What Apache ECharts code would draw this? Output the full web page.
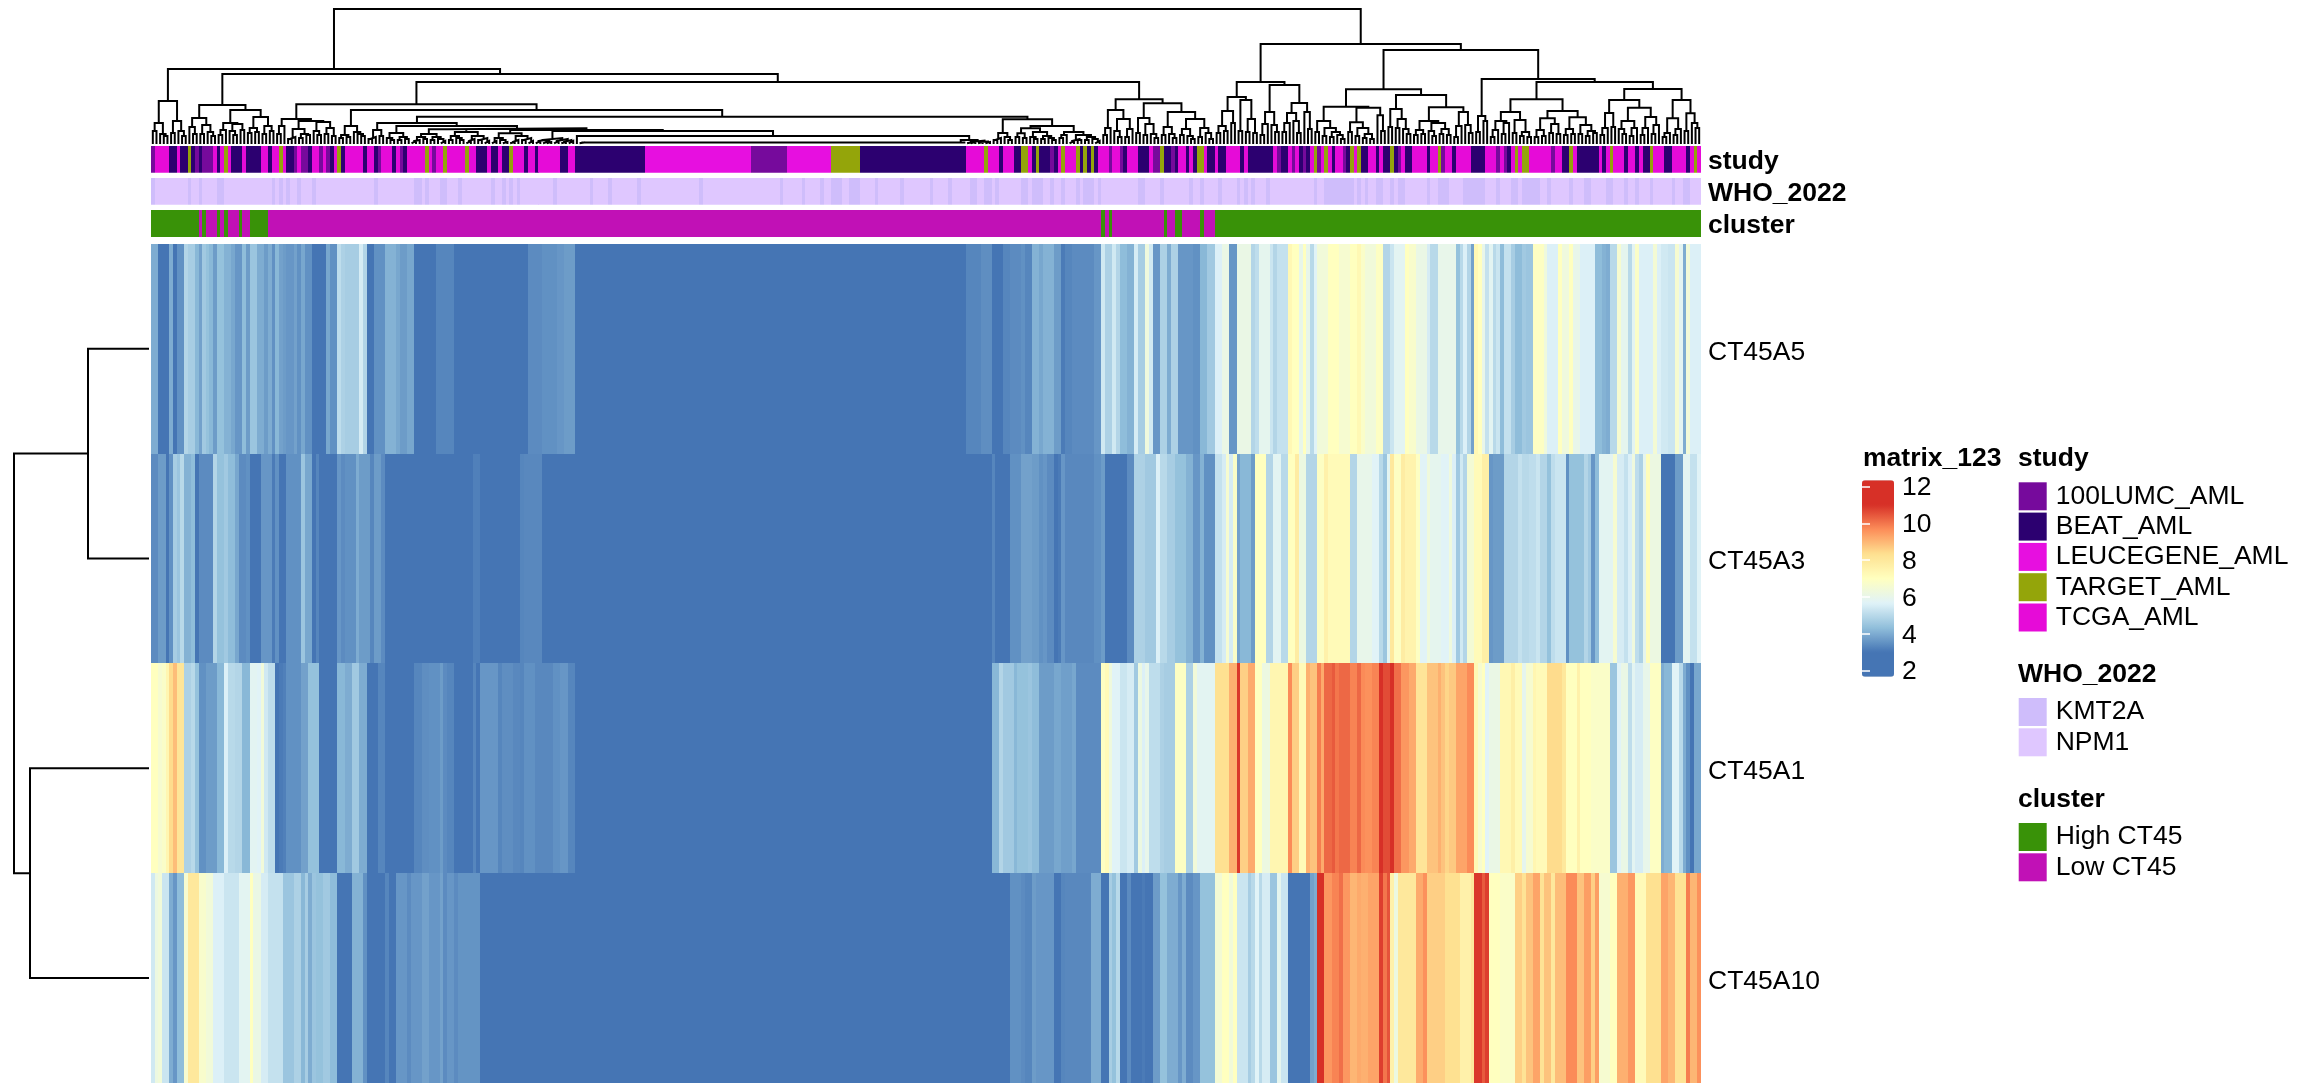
<!DOCTYPE html>
<html><head><meta charset="utf-8">
<style>html,body{margin:0;padding:0;background:#fff}#c{width:2297px;height:1083px}</style>
<script src="https://cdn.jsdelivr.net/npm/echarts@6/dist/echarts.min.js"></script>
</head><body><div id="c"></div>
<script>
const genes = ['CT45A5','CT45A3','CT45A1','CT45A10'];
const ct45a5 = [
4,4,3,3,3,4,3,3.5,3.5,4.9, 4.7,4.7,4.2,3.8,4.6,4.4,4.2,3.7,4.4,4.4,
4.1,4.1,3.9,3.6,3.6,4.3,3.7,4.5,4.5,4, 4,3.7,4,3.5,4.2,3.8,3.7,3.6,3.6,3.8,
3.5,3.9,3.5,3.5,3,3,3,3,3.9,3.5, 3.5,5.1,4.8,4.7,4.7,4.7,4.7,5.5,4.9,3,
3,3.5,3.5,3.5,4.1,4.1,4.1,3.9,3.7,3.7, 3.9,3.9,3,3,3,3,3,3,3.3,3.3,
3.3,3.3,3.3,3,3,3,3,3,3,3, 3,3,3,3,3,3,3,3,3,3,
3,3,3,3.4,3.4,3.4,3.4,3.5,3.5,3.5, 3.5,3.6,3.6,3.7,3.7,3.7,3,3,3,3,
3,3,3,3,3,3,3,3,3,3, 3,3,3,3,3,3,3,3,3,3, 3,3,3,3,3,3,3,3,3,3, 3,3,3,3,3,3,3,3,3,3,
3,3,3,3,3,3,3,3,3,3, 3,3,3,3,3,3,3,3,3,3, 3,3,3,3,3,3,3,3,3,3, 3,3,3,3,3,3,3,3,3,3,
3,3,3,3,3,3,3,3,3,3, 3,3,3,3,3,3,3,3,3,3,
3,3,3,3.3,3.3,3.3,3.3,3.45,3.45,3.45, 3,3,3,3.3,3.3,3.4,3.4,3.4,3.5,3.3,
3.3,4.1,4.1,3.9,4.1,4.1,4.1,3.7,3.7,3.1, 3.3,3.3,3.4,3.4,3.4,3.4,3.4,3.4,3.6,3.6,
5.4,4.8,4.8,5.4,4.9,4.3,4.3,4.1,4.1,5.5, 4.7,4.7,6.3,5.4,3.6,3.6,4.8,4.8,4,4.8,
4.8,3.6,3.6,3.6,3.6,3.5,3.5,4.2,4.2,4.6, 4.6,5.6,5.6,6.1,6.1,3.6,3.6,6.1,6.1,6.1,
6.1,4.9,5.1,5.9,5.9,5.9,5.3,4.9,5.2,5.2, 5.2,7.3,7,7,6,7,6,5,5.7,6.4,
6.4,6.4,7,7,7,6.6,6.6,6.6,7,7, 7.3,6.8,6.4,6.4,6.4,6.9,6.9,4.9,4.9,5.3,
5.8,5.8,5.8,7,6.7,6.7,6.1,6.1,6.1,5.5, 5,5,6,6,6,6,6,4.4,5,5.6,
4.9,3.8,7.3,7,6,5.2,5.8,5,5.3,4.3, 5.2,5.2,4.7,4.3,4.3,4.6,4.5,4.5,6.9,6.9,
6.9,6.3,5.6,5.6,5.6,7,6.3,6.3,7,6, 6,5.6,5.6,5.6,5.6,4.3,4.3,4.1,4,5,
5,6.6,5.9,5.9,5,5.8,6.8,5.6,5.6,5.6, 5.6,6.5,5.6,5.4,5.4,5.3,5.3,6.6,5.8,4,
6.4,5.6,5.6,5.6];
const ct45a3 = [
3.4,3.4,3.7,3.7,3,3.5,4.7,4.5,5,4.1, 4.1,4.3,3,3.4,3.4,3.4,3.4,4.9,4.4,4.4,
4.6,4.3,4.3,3.9,3.4,3.4,3.5,3,3,3, 3.6,3.6,3.6,3.1,3.5,3,3,3.5,3.5,3.5,
3.5,4.5,3.9,3.9,3,3.3,3,3,3,3, 3,3.6,3.4,3.5,3.5,3.5,4,3.7,3.7,3.7,
3.3,3.7,3.7,3.4,3,3,3,3,3,3, 3,3,3,3,3,3,3,3,3,3,
3,3,3,3,3,3,3,3,3.2,3.2, 3,3,3,3,3,3,3,3,3,3,
3,3.3,3.35,3.35,3.35,3.35,3.35,3,3,3, 3,3,3,3,3,3,3,3,3,3,
3,3,3,3,3,3,3,3,3,3, 3,3,3,3,3,3,3,3,3,3, 3,3,3,3,3,3,3,3,3,3, 3,3,3,3,3,3,3,3,3,3,
3,3,3,3,3,3,3,3,3,3, 3,3,3,3,3,3,3,3,3,3, 3,3,3,3,3,3,3,3,3,3, 3,3,3,3,3,3,3,3,3,3,
3,3,3,3,3,3,3,3,3,3, 3,3,3,3,3,3,3,3,3,3,
3,3,3,3,3,3,3,3,3,3, 3.3,3,3,3,3,3.5,3.5,3.5,3.8,3.8,
3.8,3.7,3.7,3.5,3.6,3.4,3.4,3,3.1,3.6, 3.35,3.35,3.35,3.35,3.35,3.35,3.35,3.35,3.5,3.5,
3.7,3,3,3,3,3,3,3.4,3.4,4.8, 4.8,4.8,4.6,4.6,4.6,5.6,5,5,4.7,4.7,
4.4,4.4,4.4,4.1,4.1,3.6,3.6,4.1,3.5,3.5, 3.5,5.2,5.2,5.5,6.6,5.5,6.8,3.8,4.2,4.2,
4.2,3.7,7,7,7,4.9,4.9,5.8,5.8,5, 5,7,7,7.8,6.2,6.2,4.9,4.9,4.9,6.9,
6.9,7.6,7.2,7.2,7.2,7.2,7.2,7.2,4.9,4.9, 6,6,6,6,5.7,5.7,5,4.5,5.8,8,
6.9,6.9,7.8,7.5,7.5,7.5,6.9,5.7,5.7,6.3, 5.9,5.9,5.9,5.7,5.7,6.3,5.6,4.6,5.4,4.9,
6.5,6.5,7.2,7.2,7.7,7.7,3.6,3.7,3.7,3.7, 4.9,4.9,4.9,4.9,5.2,5,5,5.1,5.1,5.3,
4.9,4.9,4.4,5.1,5.3,5.3,5.3,3.5,4.4,4.4, 4.4,4.4,4.9,4.6,3.6,4.3,5.8,5.8,5.8,5.8,
6.6,5.5,5.5,5.2,5.6,6.3,5.1,4.8,5.9,7.1, 6.2,6.2,6.2,3,3,3,3,3.7,3.7,5.8,
5.8,5.2,5.2,5.7];
const ct45a1 = [
7,7,6.6,6.8,7.4,8.4,8.9,8.1,8.1,4.8, 4.8,5,4.4,3.5,3.5,3.7,3.7,3.7,4.2,4.2,
5.6,5,5,4.9,4.9,4.2,4.2,5.8,5.8,5.7, 6.4,5.4,5.1,5.1,3,3.1,3.2,3.5,3.5,3.5,
3.5,3.8,3.8,4.4,4.4,4.4,3,3,3,3, 3,4.2,4.2,4,4,4.6,4.6,4,4,3,
3,3,3.3,3.3,3,3,3,3,3,3, 3,3,3.3,3.3,3.45,3.45,3.5,3.5,3.5,3.7,
3.4,3.3,3.3,3,3,3,3,3,3.3,3, 3.6,3.6,3.6,3.6,3.6,3.3,3.45,3.45,3.45,3.35,
3.35,3.3,3.5,3.5,3.5,3.35,3.35,3.35,3.35,3.35, 3.5,3.5,3.6,3.6,3.3,3.3,3,3,3,3,
3,3,3,3,3,3,3,3,3,3, 3,3,3,3,3,3,3,3,3,3, 3,3,3,3,3,3,3,3,3,3, 3,3,3,3,3,3,3,3,3,3,
3,3,3,3,3,3,3,3,3,3, 3,3,3,3,3,3,3,3,3,3, 3,3,3,3,3,3,3,3,3,3, 3,3,3,3,3,3,3,3,3,3,
3,3,3,3,3,3,3,3,3,3, 3,3,3,3,3,3,3,3,3,3,
3,3,3,3,3,3,3,3,3,3, 4.2,4.2,4.9,4.6,4.6,4.6,4.2,4.4,4.4,4.4,
4.5,4.3,4.3,3.7,3.7,3.7,3.7,3.9,3.9,3.75, 3.75,3.75,3.9,3.4,3.4,3.4,3.4,3.4,3.4,3.4,
6.9,7.2,6.3,5.7,5.7,5.3,5.3,5.5,5.5,4.6, 6.2,5.6,6,5.1,5.1,5.1,4.8,4.7,4.7,4.7,
6.9,6.9,6.9,4.8,4.8,6.4,5.8,5.8,5.8,5.8, 5.8,8.3,8.3,8.3,8.3,9.1,9.1,10.9,8.6,8.6,
9.2,9.2,7,7,6.2,6.2,7.4,7.4,7.4,7.4, 7.4,9.7,8.6,8.6,7.2,7.2,9.1,8.8,8.8,9.9,
9.2,10.2,10.2,10.4,10,10.2,10.2,10.2,9.8,9.8, 10.2,9.7,9.6,9.6,9.8,9.8,11,10.6,10.6,11,
10.1,10.1,9.5,9.5,9.2,9.2,8.1,8.1,8.1,8.8, 8.8,8.8,9.1,8.8,8.5,8.7,8.7,9.3,9.3,9.3,
9.7,9.7,7.3,6.6,7,5.7,6.1,6.1,6.1,7.3, 7.3,7.3,7.7,7.2,7.2,5.9,6.6,6.6,7.4,7.2,
7.2,7.2,8.4,8.4,8.4,8.4,8,7,7,7, 7.6,7,7,7,6.8,6.8,6.8,6.8,6.8,4.5,
4.5,5.7,6.1,6.1,5.1,5.8,5.5,5.5,6,6, 6.9,6.9,6.9,4,4.2,4.2,5.7,5.7,5,4,
3.5,3,3.9,3.9];
const ct45a10 = [
5.4,6.2,6.4,5.3,5.3,4,3.6,4.3,4.3,6.6, 8,8,8,6.7,6.7,6.4,6.4,5.6,5.6,5.6,
5.3,5.3,5.3,5.3,5.8,5.8,5.8,7,6.1,6.1, 5.5,5.5,5.2,5.2,5.2,5.2,4.5,4.5,4.5,4.8,
4.8,4.2,4.7,4,4.5,4.4,4.4,4.6,4.6,4.3, 4.3,3,3,3,3,4.1,4.1,4.1,3.5,3,
3,3,3,3,3.3,3,3,3.6,3.6,3.6, 3.4,3.6,3.6,3.6,3.8,3.8,3.6,3.6,3.6,3.8,
3.4,3.6,3.6,3.4,3.55,3.55,3.55,3.55,3.55,3.55, 3,3,3,3,3,3,3,3,3,3,
3,3,3,3,3,3,3,3,3,3, 3,3,3,3,3,3,3,3,3,3,
3,3,3,3,3,3,3,3,3,3, 3,3,3,3,3,3,3,3,3,3, 3,3,3,3,3,3,3,3,3,3, 3,3,3,3,3,3,3,3,3,3,
3,3,3,3,3,3,3,3,3,3, 3,3,3,3,3,3,3,3,3,3, 3,3,3,3,3,3,3,3,3,3, 3,3,3,3,3,3,3,3,3,3,
3,3,3,3,3,3,3,3,3,3, 3,3,3,3,3,3,3,3,3,3,
3,3,3,3,3,3,3,3,3,3, 3,3,3,3,3,3.5,3.5,3.5,3.4,3.3,
3.3,3.7,3.6,3.6,3.6,3.6,3.6,3,3,3.3, 3.35,3.35,3.35,3.35,3.35,3.35,3.35,4,4,4,
3,3,4.7,4.4,5,3,3,3.4,3,3, 3,3.1,3,3,3.7,3.7,4.4,4.4,4,4,
4,3.6,4,3.4,3.4,3.6,3.6,4.4,4.4,4.4, 4.4,6.5,6.5,7,7,6.4,7,5.3,5.3,5.3,
4.7,5,5.7,5,5.5,5.5,4.5,4.5,5.9,5.3, 5.3,3,3,3,3,3,3,3.8,4,11,
11,9.5,9.5,9.8,9.8,10.1,9.5,9.5,9,9, 9.2,9.1,9.1,9.3,9.3,9.3,10.8,10,10.5,7.6,
6.2,8,8,8,8,8,9.2,9.2,9.6,8.6, 8.6,8.6,8.6,8.6,8.3,8.3,8.3,8.3,7.6,7.6,
7.6,8,10.9,10.9,10.4,10.8,7,7,7,6.8, 6.8,6.8,6.8,8.6,8.6,8.2,8.8,8.8,9.3,9.3,
8.2,8.8,8.8,8,8.9,8.9,8.9,9.7,9.7,9.7, 8.8,8.8,9.4,9.4,8.6,9.4,6.6,6.6,6.6,7,
7,9.1,9.1,9.1,9.5,9.5,7.2,7.2,7.2,8.3, 8.3,8.3,8.3,9.3,9.3,9,9,8.2,8.2,8.2,
9.9,9,9,9.6];

// 0 100LUMC, 1 BEAT, 2 LEUCEGENE, 3 TARGET, 4 TCGA
const studyCodes = [
0,4,4,4,4,1,1,4,1,1, 3,1,0,1,0,0,0,4,1,4, 3,4,1,1,1,4,1,1,1,1, 4,4,1,4,4,3,4,1,1,0,
4,0,0,1,4,4,0,4,0,1, 4,3,1,4,4,4,4,4,1,4, 4,1,0,4,4,4,1,4,0,1, 4,4,4,4,4,3,4,0,4,4,
3,4,4,4,4,4,3,4,4,1, 1,1,4,1,1,4,1,1,3,4, 4,4,1,4,4,1,4,4,4,4, 4,4,1,1,4,4,1,1,1,1,
1,1,1,1,1,1,1,1,1,1, 1,1,1,1,1,2,2,2,2,2, 2,2,2,2,2,2,2,2,2,2, 2,2,2,2,2,2,2,2,2,2,
2,2,2,2,0,0,0,0,0,0, 0,0,0,0,2,2,2,2,2,2, 2,2,2,2,2,2,3,3,3,3, 3,3,3,3,1,1,1,1,1,1,
1,1,1,1,1,1,1,1,1,1, 1,1,1,1,1,1,1,1,1,1, 1,1,1,4,4,4,4,4,3,4, 4,4,1,4,4,4,1,1,3,3,
4,1,3,1,1,1,0,1,4,3, 4,4,4,3,1,3,1,3,1,4, 4,4,0,4,4,0,1,4,4,4, 1,1,1,4,0,0,3,1,1,0,
1,4,4,1,4,1,3,3,4,1, 1,4,1,1,4,4,4,4,1,4, 1,1,1,1,1,1,1,4,0,1, 1,4,0,4,1,0,1,4,3,0,
4,3,4,1,4,4,0,1,3,4, 3,1,1,4,4,1,4,1,1,3, 1,0,4,1,1,4,4,4,4,1, 4,4,3,0,4,4,1,4,4,4,
4,1,1,1,1,4,4,4,0,4, 0,1,4,3,4,3,3,4,4,4, 4,4,4,0,4,4,1,1,3,4, 1,1,1,1,1,1,4,1,4,3,
4,4,4,1,4,4,1,4,1,1, 3,4,4,4,1,1,4,4,4,4, 1,4,3,4];
// 0 KMT2A, 1 NPM1
const whoCodes = [
0,1,1,1,1,1,1,1,1,1, 0,1,1,0,1,1,1,1,0,0, 1,1,1,1,1,1,1,1,1,1, 1,1,1,0,1,0,1,0,1,1,
0,1,1,1,0,1,1,1,1,1, 1,1,1,1,1,1,1,1,1,1, 1,0,1,1,1,1,1,1,1,1, 1,1,0,0,1,0,1,1,1,0,
0,1,1,1,0,1,1,1,1,1, 1,1,1,0,1,1,0,1,0,1, 0,1,1,1,1,1,1,1,1,1, 0,1,1,1,1,1,1,1,1,1,
0,1,1,1,1,0,1,1,1,1, 1,1,1,0,1,1,1,1,1,1, 1,1,1,1,1,1,1,1,1,1, 0,1,1,1,1,1,1,1,1,1,
1,1,1,1,1,1,1,1,1,1, 1,1,0,1,1,1,1,1,0,1, 1,1,1,0,1,1,0,0,0,1, 1,0,0,0,1,1,1,1,0,1,
1,1,1,1,1,0,1,1,1,1, 1,1,1,0,1,1,1,1,0,1, 1,1,1,1,0,0,1,1,0,0, 1,0,1,1,1,1,1,1,0,0,
1,0,0,0,1,1,0,1,1,0, 1,1,1,0,1,0,0,0,1,0, 1,1,1,1,1,1,1,1,1,1, 0,0,1,1,1,1,0,1,1,1,
1,1,1,1,0,1,1,0,1,1, 1,1,0,1,1,1,1,0,1,0, 1,0,1,1,1,0,1,1,1,1, 1,1,1,1,1,1,1,1,0,1,
1,0,0,0,0,0,0,0,0,1, 0,1,0,1,1,0,0,1,1,0, 1,0,0,1,1,1,1,1,1,0, 1,1,0,0,0,1,1,1,1,0,
0,0,0,0,0,1,1,1,0,1, 1,1,0,0,1,0,0,0,0,0, 1,1,0,1,1,1,1,1,0,1, 1,1,0,0,1,1,1,1,0,0,
1,1,1,0,1,1,0,1,1,1, 0,1,1,1,1,1,0,1,1,0, 0,1,1,1];
// 0 High CT45, 1 Low CT45
const clusterCodes = [
0,0,0,0,0,0,0,0,0,0, 0,0,0,1,0,1,1,1,0,1, 0,1,1,1,0,1,1,0,0,0, 0,0,1,1,1,1,1,1,1,1,
1,1,1,1,1,1,1,1,1,1, 1,1,1,1,1,1,1,1,1,1, 1,1,1,1,1,1,1,1,1,1, 1,1,1,1,1,1,1,1,1,1,
1,1,1,1,1,1,1,1,1,1, 1,1,1,1,1,1,1,1,1,1, 1,1,1,1,1,1,1,1,1,1, 1,1,1,1,1,1,1,1,1,1,
1,1,1,1,1,1,1,1,1,1, 1,1,1,1,1,1,1,1,1,1, 1,1,1,1,1,1,1,1,1,1, 1,1,1,1,1,1,1,1,1,1,
1,1,1,1,1,1,1,1,1,1, 1,1,1,1,1,1,1,1,1,1, 1,1,1,1,1,1,1,1,1,1, 1,1,1,1,1,1,1,1,1,1,
1,1,1,1,1,1,1,1,1,1, 1,1,1,1,1,1,1,1,1,1, 1,1,1,1,1,1,1,1,1,1, 1,1,1,1,1,1,1,1,1,1,
1,1,1,1,1,1,1,1,1,1, 1,1,1,1,1,1,1,1,1,1, 0,1,0,1,1,1,1,1,1,1, 1,1,1,1,1,1,1,0,1,1,
0,0,1,1,1,1,1,0,1,1, 1,0,0,0,0,0,0,0,0,0, 0,0,0,0,0,0,0,0,0,0, 0,0,0,0,0,0,0,0,0,0,
0,0,0,0,0,0,0,0,0,0, 0,0,0,0,0,0,0,0,0,0, 0,0,0,0,0,0,0,0,0,0, 0,0,0,0,0,0,0,0,0,0,
0,0,0,0,0,0,0,0,0,0, 0,0,0,0,0,0,0,0,0,0, 0,0,0,0,0,0,0,0,0,0, 0,0,0,0,0,0,0,0,0,0,
0,0,0,0,0,0,0,0,0,0, 0,0,0,0,0,0,0,0,0,0, 0,0,0,0];

const studyNames = ['100LUMC_AML','BEAT_AML','LEUCEGENE_AML','TARGET_AML','TCGA_AML'];
const studyColors = ['#760A9C','#2C0070','#E70FE0','#94A50A','#E60BD8'];
const whoNames = ['KMT2A','NPM1'];
const whoColors = ['#CFBDFB','#DFC7FF'];
const clusterNames = ['High CT45','Low CT45'];
const clusterColors = ['#399208','#C111B6'];
const legendTicks = [2,4,6,8,10,12];

// dendrogram nodes: [height, left, right]; 0 is a leaf
const rowTree = [134,[60,0,0],[118,0,0]];
const flatHeights = [
.5,.5,.5,.5,.5,.5,.5,.5,.5,.5, .5,.5,.5,.5,.5,.5,.5,.5,.5,.5, .5,.5,.5,.5,.5,.5,.5,.5,.5,.5,
.5,.5,.5,.5,.5,.5,.5,.5,.5,.5, .5,.5,.5,.5,.5,.5,.5,.5,.5,.5, .5,.5,.5,.5,.5,.5,.5,.5,.5,.5,
.5,.5,.5,.5,.5,.5,.5,.5,.5,.5, .5,.5,.5,.5,.5,.5,.5,.5,.5,.5, .5,.5,.5,.5,.5,.5,.5,.5,.5,.5,
.5,.5,.5,.5,.5,.5,.5,.5,.5,.5, .5,.5,.5,.5,.6];
const flatBlock = flatHeights.reduce((t, h) => [h, t, 0], 0);
const t1 = [42,[20,[12,0,0],[9,0,[7,0,0]]],[22,[10,0,0],[12,0,[7,0,0]]]];
const t2 = [38,[25,[16,0,[9,0,0]],[18,[9,0,0],[11,0,[7,0,0]]]],
  [33,[20,[13,[8,0,0],0],[19,[12,0,[8,0,0]],[13,0,0]]],[26,[15,[10,0,0],[11,0,0]],[17,[9,0,0],[12,0,0]]]]];
const t3 = [24,[17,[9,0,0],0],[22,[14,[6,[4,0,0],0],[9,[5,0,0],[8,0,0]]],[21,[12,0,[8,0,0]],[15,[9,0,0],[7,0,0]]]]];
const t4 = [17,[8,[5,0,0],[6,0,0]],[11,0,[9,0,[7,0,0]]]];
const t5 = [13,[6,[4,0,0],0],[7,0,0]];
const t6 = [10,[5,0,[3,0,0]],[6,[3,0,0],[4,0,0]]];
const t7 = [13.7,[9,[6,[3,[2,0,0],0],[4,0,0]],[6,[3,0,0],[4,0,[2,0,0]]]],
  [11,[7,[3,0,0],[5,0,[3,0,0]]],[7,[4,[2,0,0],0],[5,[3,0,0],[2,0,0]]]]];
const t8 = [9.7,[5,[2,0,0],[3,0,[1,0,0]]],[7,[3,[1,0,0],0],[5,[3,0,0],[2,0,0]]]];
const t9 = [5,[3,[2,0,0],[2,0,[1,0,0]]],[4,[2,0,0],[3,[1,0,0],[2,0,0]]]];
const t10 = [2.5,[1,0,[1,0,0]],[1.5,[1,0,0],[1,0,0]]];
const t11 = [10,[5,[3,0,0],0],[6,0,[3,0,0]]];
const t12 = [17,[14.7,[9.7,[6,0,0],[5,0,0]],[11,[6,0,[4,0,0]],[7,[4,0,0],[5,0,[3,0,0]]]]],
  [11,[8,[5,0,0],0],[8,[4,[2,0,0],[3,0,0]],[6,[3,0,0],[4,0,[2,0,0]]]]]];
const t13 = [43.7,[33,[15,[8,0,0],0],[24,[12,0,[6,0,0]],[14,[6,0,0],0]]],
  [39.7,[25,[10,0,0],[19,[8,0,0],[9,0,[5,0,0]]]],
   [31,[16,[8,0,0],[9,0,[5,0,0]]],[24,[14,[8,0,0],[7,0,[4,0,0]]],[15,[6,0,0],[10,0,[4,0,0]]]]]]];
const t14 = [61,[46,[32,[17,[10,0,0],[12,0,0]],[20,0,0]],[43,[12,0,0],[24,[11,0,0],[10,0,0]]]],
  [58,[31,[19,[8,0,0],0],[18,0,[11,0,0]]],[40,[30,[20,[11,0,0],0],[22,0,[10,0,0]]],[31,0,[14,0,0]]]]];
const t15 = [53.7,[36.3,[22,[11,0,0],[15,[7,0,0],[11,[6,0,0],[8,0,[4,0,0]]]]],
    [35.3,[20.7,[11,0,0],[15,[7,0,0],[9,[5,0,0],[4,0,0]]]],[27.7,0,[12,0,0]]]],
  [48,[34,[16,0,0],[24,[15,0,0],[14,0,[9,0,0]]]],
    [35.7,[22,[13,[8,0,0],[9,0,0]],[20,[12,0,[7,0,0]],[14,[9,0,0],[8,0,0]]]],[31,[17,[6,0,0],0],[18,0,[10,0,0]]]]]];
const t16 = [27,[11,0,0],[22,0,0]];
const t17 = [43.7,[31,[22,[13,[6,0,0],0],[20,[9,0,0],0]],[23,[10,0,0],[11,[7,0,0],[6,0,0]]]],
  [32,[24.7,[13,[6,0,0],[7,0,0]],[19,[10,0,0],[9,0,0]]],[25.7,[14,[8,0,0],[9,0,0]],[18,[9,0,0],[12,[7,0,0],[10,0,0]]]]]];
const t18 = [54,[43,[30,[15,[8,0,0],0],[16,0,0]],[35.3,[22,[14,0,[9,0,0]],[15,[7,0,0],0]],[26,[15,[8,0,0],0],[18,[9,0,0],0]]]],
  [43,[24.7,[10,[6,0,0],0],[14,[8,0,0],0]],[29.7,[12,0,0],[20,0,[15,0,0]]]]];
const lowerLeft = [20,t5,[17,t6,[14.7,t7,[13,t8,[12,t9,[7,0,[3,flatBlock,t10]]]]]]];
const middleLeft = [26.3,lowerLeft,[23.7,t11,t12]];
const leftBranch = [74,t1,[69,t2,[61,[38.7,t3,[33,t4,middleLeft]],t13]]];
const rightBranch = [99,t14,[93,t15,[64,t16,[61,t17,t18]]]];
const colTree = [134,leftBranch,rightBranch];

const nCols = ct45a5.length;
const colNames = ct45a5.map((_, i) => String(i));
function segments(tree, toPoint) {
  const out = []; let leaf = 0;
  (function walk(n) {
    if (!Array.isArray(n)) { leaf += 1; return { p: leaf - 0.5, h: 0 }; }
    const a = walk(n[1]), b = walk(n[2]);
    [[a.p,a.h],[a.p,n[0]],[b.p,n[0]],[b.p,b.h]].forEach(q => out.push(toPoint(q[0], q[1])));
    out.push([NaN, NaN]);
    return { p: (a.p + b.p) / 2, h: n[0] };
  })(tree);
  return out;
}
const FONT = 'Liberation Sans';
const FS = 26.5;
const heatCells = [];
[ct45a5, ct45a3, ct45a1, ct45a10].forEach((row, r) => row.forEach((v, c) => heatCells.push([c, r, v])));
const track = codes => codes.map((v, c) => [c, 0, v]);

// one cell through the axes' own scale, snapped to whole pixels so neighbours share an edge
function cell(params, api) {
  const p = api.coord([api.value(0), api.value(1)]);
  const s = api.size([1, 1]);
  const x0 = Math.round(p[0] - s[0] / 2), x1 = Math.round(p[0] + s[0] / 2);
  const y0 = Math.round(p[1] - s[1] / 2), y1 = Math.round(p[1] + s[1] / 2);
  return { type: 'rect', shape: { x: x0, y: y0, width: x1 - x0, height: y1 - y0 }, style: { fill: api.visual('color') } };
}
const cells = (axis, data) => ({ type: 'custom', xAxisIndex: axis, yAxisIndex: axis, data, renderItem: cell, encode: { x: 0, y: 1 }, silent: true, progressive: 0, clip: true });

// axis label nudged down inside its line box, as the reference text sits slightly lower
const nudged = (margin, drop, weight, extra) => Object.assign({
  margin, color: '#000', fontFamily: FONT, fontSize: FS, fontWeight: weight,
  formatter: '{a|{value}}',
  rich: { a: { padding: [drop, 0, 0, 0], color: '#000', fontFamily: FONT, fontSize: FS, fontWeight: weight } }
}, extra || {});
const trackAxis = (gi, name) => ({
  type: 'category', gridIndex: gi, data: [name], position: 'right', axisLine: { show: false }, axisTick: { show: false },
  axisLabel: nudged(7, 5, 'bold')
});
const hideX = (gi, data) => ({ type: 'category', gridIndex: gi, data, show: false });
const piece = (series, names, colors, top) => ({
  type: 'piecewise', seriesIndex: series, dimension: 2, show: true, left: 2018.7, top, padding: 0, orient: 'vertical',
  itemWidth: 28, itemHeight: 28, itemGap: 2.3, itemSymbol: 'rect', textGap: 9, selectedMode: false, hoverLink: false, align: 'left', inverse: true,
  textStyle: { color: '#000', fontFamily: FONT, fontSize: FS },
  pieces: names.map((label, i) => ({ value: i, label, color: colors[i] }))
});
const head = (text, left, top) => ({ text, left, top, padding: 0, textStyle: { fontFamily: FONT, fontSize: FS, fontWeight: 'bold', color: '#000', lineHeight: FS } });

const chart = echarts.init(document.getElementById('c'), null, { renderer: 'canvas' });
const lineStyle = { color: '#000', width: 2, cap: 'square', join: 'miter' };
chart.setOption({
  animation: false, backgroundColor: '#fff',
  title: [head('matrix_123', 1863, 445), head('study', 2018, 445), head('WHO_2022', 2018, 661.5), head('cluster', 2018, 786.5)],
  grid: [
    { left: 151, width: 1550, top: 243.8, height: 839.2 },
    { left: 151, width: 1550, top: 145.7, height: 27 },
    { left: 151, width: 1550, top: 177.7, height: 27 },
    { left: 151, width: 1550, top: 209.7, height: 27.3 },
    { left: 151, width: 1550, top: 9, height: 134 },
    { left: 14, width: 134, top: 243.8, height: 839.2 },
    { left: 1862, width: 32, top: 480.3, height: 196.4 }
  ],
  xAxis: [
    hideX(0, colNames), hideX(1, colNames), hideX(2, colNames), hideX(3, colNames),
    { type: 'value', gridIndex: 4, min: 0, max: nCols, show: false },
    { type: 'value', gridIndex: 5, min: 0, max: 134, inverse: true, show: false },
    { type: 'value', gridIndex: 6, min: 0, max: 1, show: false }
  ],
  yAxis: [
    { type: 'category', gridIndex: 0, data: genes, inverse: true, position: 'right', axisLine: { show: false }, axisTick: { show: false },
      axisLabel: nudged(7, 7, 'normal') },
    trackAxis(1, 'study'), trackAxis(2, 'WHO_2022'), trackAxis(3, 'cluster'),
    { type: 'value', gridIndex: 4, min: 0, max: 134, show: false },
    { type: 'value', gridIndex: 5, min: 0, max: genes.length, inverse: true, show: false },
    { type: 'value', gridIndex: 6, min: 1.667, max: 12.333, position: 'right', z: 10, splitLine: { show: false }, axisLine: { show: false },
      axisTick: { show: true, inside: true, length: 8, customValues: legendTicks, lineStyle: { color: '#fff', width: 1.5 } },
      axisLabel: nudged(8, 3, 'normal', { customValues: legendTicks }) },
    { type: 'value', gridIndex: 6, min: 1.667, max: 12.333, position: 'left', z: 10, splitLine: { show: false }, axisLine: { show: false },
      axisTick: { show: true, inside: true, length: 8, customValues: legendTicks, lineStyle: { color: '#fff', width: 1.5 } },
      axisLabel: { show: false } }
  ],
  visualMap: [
    { type: 'continuous', seriesIndex: 0, dimension: 2, min: 1.667, max: 12.333, show: true, left: 1862, top: 480.3, padding: 0,
      itemWidth: 32, itemHeight: 196.4, calculable: false, realtime: false, hoverLink: false, z: 1, text: null, showLabel: false,
      inRange: { color: ['#4575B4','#4575B4','#91BFDB','#E0F3F8','#FFFFBF','#FEE090','#FC8D59','#D73027','#D73027'] } },
    piece(1, studyNames, studyColors, 482.3),
    piece(2, whoNames, whoColors, 698),
    piece(3, clusterNames, clusterColors, 823)
  ],
  series: [
    cells(0, heatCells),
    cells(1, track(studyCodes)),
    cells(2, track(whoCodes)),
    cells(3, track(clusterCodes)),
    { type: 'line', xAxisIndex: 4, yAxisIndex: 4, showSymbol: false, symbol: 'none', connectNulls: false, silent: true, clip: false, lineStyle,
      data: segments(colTree, (p, h) => [p, h]) },
    { type: 'line', xAxisIndex: 5, yAxisIndex: 5, showSymbol: false, symbol: 'none', connectNulls: false, silent: true, clip: false, lineStyle,
      data: segments(rowTree, (p, h) => [h, p]) }
  ]
});
</script></body></html>
